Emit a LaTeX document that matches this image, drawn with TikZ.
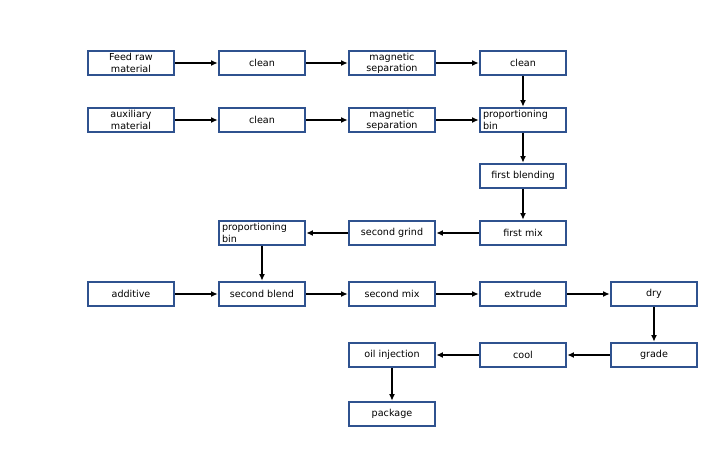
\documentclass[tikz,border=0pt]{standalone}
\usepackage{fontspec}
\setmainfont{DejaVu Sans}
\usetikzlibrary{arrows.meta}
\definecolor{boxblue}{RGB}{47,82,143}
\tikzset{
    stage/.style={draw=boxblue, line width=1.4pt, minimum width=65pt, minimum height=18.5pt,
        inner sep=1pt, align=center, font=\fontsize{7.2}{8.4}\selectfont},
    binbox/.style={stage, text width=60pt, align=left},
    flow/.style={line width=1.3pt, -{Latex[length=5pt,width=4.5pt]}}
}
\begin{document}
\begin{tikzpicture}[x=0.75pt, y=-0.75pt]
    \useasboundingbox (0,0) rectangle (728,456);
    % row 1
    \node[stage] (feed)   at (131,63)  {Feed raw\\material};
    \node[stage] (cleanA) at (262,63)  {clean};
    \node[stage] (magA)   at (392,63)  {magnetic\\separation};
    \node[stage] (cleanB) at (523,63)  {clean};
    % row 2
    \node[stage] (aux)    at (131,120) {auxiliary\\material};
    \node[stage] (cleanC) at (262,120) {clean};
    \node[stage] (magB)   at (392,120) {magnetic\\separation};
    \node[binbox] (binA)  at (523,120) {proportioning\\bin};
    % rows 3 and 4
    \node[stage] (blendA) at (523,176) {first blending};
    \node[stage] (mixA)   at (523,233) {first mix};
    \node[stage] (grindB) at (392,233) {second grind};
    \node[binbox] (binB)  at (262,233) {proportioning\\bin};
    % row 5
    \node[stage] (additive) at (131,294) {additive};
    \node[stage] (blendB)   at (262,294) {second blend};
    \node[stage] (mixB)     at (392,294) {second mix};
    \node[stage] (extrude)  at (523,294) {extrude};
    \node[stage] (dry)      at (654,294) {dry};
    % rows 6 and 7
    \node[stage] (grade)   at (654,355) {grade};
    \node[stage] (cool)    at (523,355) {cool};
    \node[stage] (oil)     at (392,355) {oil injection};
    \node[stage] (package) at (392,414) {package};

    \draw[flow] (feed) -- (cleanA);
    \draw[flow] (cleanA) -- (magA);
    \draw[flow] (magA) -- (cleanB);
    \draw[flow] (cleanB) -- (binA);
    \draw[flow] (aux) -- (cleanC);
    \draw[flow] (cleanC) -- (magB);
    \draw[flow] (magB) -- (binA);
    \draw[flow] (binA) -- (blendA);
    \draw[flow] (blendA) -- (mixA);
    \draw[flow] (mixA) -- (grindB);
    \draw[flow] (grindB) -- (binB);
    \draw[flow] (binB) -- (blendB);
    \draw[flow] (additive) -- (blendB);
    \draw[flow] (blendB) -- (mixB);
    \draw[flow] (mixB) -- (extrude);
    \draw[flow] (extrude) -- (dry);
    \draw[flow] (dry) -- (grade);
    \draw[flow] (grade) -- (cool);
    \draw[flow] (cool) -- (oil);
    \draw[flow] (oil) -- (package);
\end{tikzpicture}
\end{document}
